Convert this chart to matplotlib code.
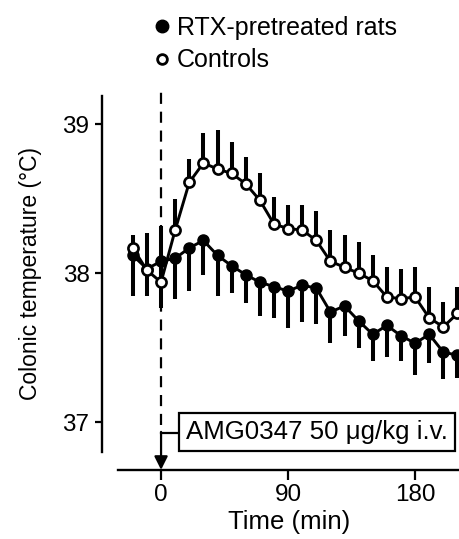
import numpy as np
import matplotlib
matplotlib.use("Agg")
import matplotlib.pyplot as plt
from matplotlib.lines import Line2D

plt.rcParams['font.family'] = ['Liberation Sans', 'DejaVu Sans']

# time points (min)
time = list(range(-20, 220, 10))

# RTX-pretreated rats (filled), error bars drawn downward
rtx_mean = [38.12, 38.03, 38.08, 38.10, 38.17, 38.22, 38.12, 38.05, 37.99, 37.94,
            37.91, 37.88, 37.92, 37.90, 37.74, 37.78, 37.68, 37.59, 37.65, 37.58,
            37.53, 37.59, 37.47, 37.45]
rtx_err = [0.27, 0.18, 0.31, 0.27, 0.29, 0.23, 0.27, 0.18, 0.19, 0.23,
           0.21, 0.25, 0.25, 0.24, 0.21, 0.20, 0.18, 0.18, 0.21, 0.17,
           0.21, 0.19, 0.18, 0.15]

# Controls (open), error bars drawn upward
ctrl_mean = [38.17, 38.02, 37.94, 38.29, 38.61, 38.74, 38.70, 38.67, 38.60, 38.49,
             38.33, 38.30, 38.29, 38.22, 38.08, 38.04, 38.00, 37.95, 37.84, 37.83,
             37.84, 37.70, 37.64, 37.73]
ctrl_err = [0.09, 0.25, 0.38, 0.21, 0.16, 0.20, 0.26, 0.21, 0.18, 0.18,
            0.18, 0.16, 0.17, 0.20, 0.21, 0.22, 0.21, 0.17, 0.20, 0.20,
            0.20, 0.21, 0.17, 0.18]

W, H = 460, 539
fig = plt.figure(figsize=(W / 100, H / 100), dpi=100)
# axes box: x from 118 to 461 px, y from 96 to 452 px
ax = fig.add_axes([118 / W, 1 - 452 / H, (461 - 118) / W, (452 - 96) / H])
ax.set_xlim(-30.5, 212.5)
ax.set_ylim(36.80, 39.19)

zero = [0] * len(time)
ax.errorbar(time, rtx_mean, yerr=[rtx_err, zero], fmt='none', ecolor='black',
            elinewidth=2.9, capsize=0, zorder=2, clip_on=False)
ax.errorbar(time, ctrl_mean, yerr=[zero, ctrl_err], fmt='none', ecolor='black',
            elinewidth=2.9, capsize=0, zorder=2, clip_on=False)
ax.plot(time, rtx_mean, color='black', lw=2.1, marker='o', ms=8,
        mfc='black', mec='black', zorder=3, clip_on=False)
ax.plot(time, ctrl_mean, color='black', lw=2.1, marker='o', ms=7.3,
        mfc='white', mec='black', mew=1.9, zorder=4, clip_on=False)

# injection marker
ax.plot([0, 0], [36.98, 39.22], color='black', lw=1.6, ls=(0, (5, 3.5)),
        clip_on=False, zorder=1)
ax.plot([0, 12], [36.93, 36.93], color='black', lw=1.6, clip_on=False)
ax.annotate('', xy=(0, 36.68), xytext=(0, 36.935),
            arrowprops=dict(arrowstyle='-|>', color='black', lw=1.6,
                            mutation_scale=20, shrinkA=0, shrinkB=0),
            annotation_clip=False)
ax.text(17.5, 36.935, 'AMG0347 50 \u03bcg/kg i.v.', fontsize=18.6, va='center',
        ha='left', bbox=dict(boxstyle='square,pad=0.28', fc='white', ec='black', lw=1.6),
        zorder=5)

for s in ['top', 'right']:
    ax.spines[s].set_visible(False)
ax.spines['left'].set_position(('outward', 11.5))
ax.spines['bottom'].set_position(('outward', 13))
ax.spines['left'].set_linewidth(1.7)
ax.spines['bottom'].set_linewidth(1.7)

ax.set_xticks([0, 90, 180])
ax.set_yticks([37, 38, 39])
ax.tick_params(axis='both', labelsize=17.5, width=1.6, direction='out')
ax.tick_params(axis='y', length=5, pad=4)
ax.tick_params(axis='x', length=7, pad=3)
ax.set_xlabel('Time (min)', fontsize=18.5, labelpad=3)
ax.set_ylabel('Colonic temperature (\u00b0C)', fontsize=16.5, labelpad=15)

handles = [Line2D([], [], ls='none', marker='o', ms=9, mfc='black', mec='black'),
           Line2D([], [], ls='none', marker='o', ms=7, mfc='white', mec='black', mew=2)]
fig.legend(handles, ['RTX-pretreated rats', 'Controls'], loc='upper left',
           bbox_to_anchor=(142 / W, 1 - 3 / H), frameon=False, fontsize=18,
           handlelength=0.6, handletextpad=0.3, labelspacing=0.35, borderpad=0)

fig.savefig('out.png', dpi=100)
